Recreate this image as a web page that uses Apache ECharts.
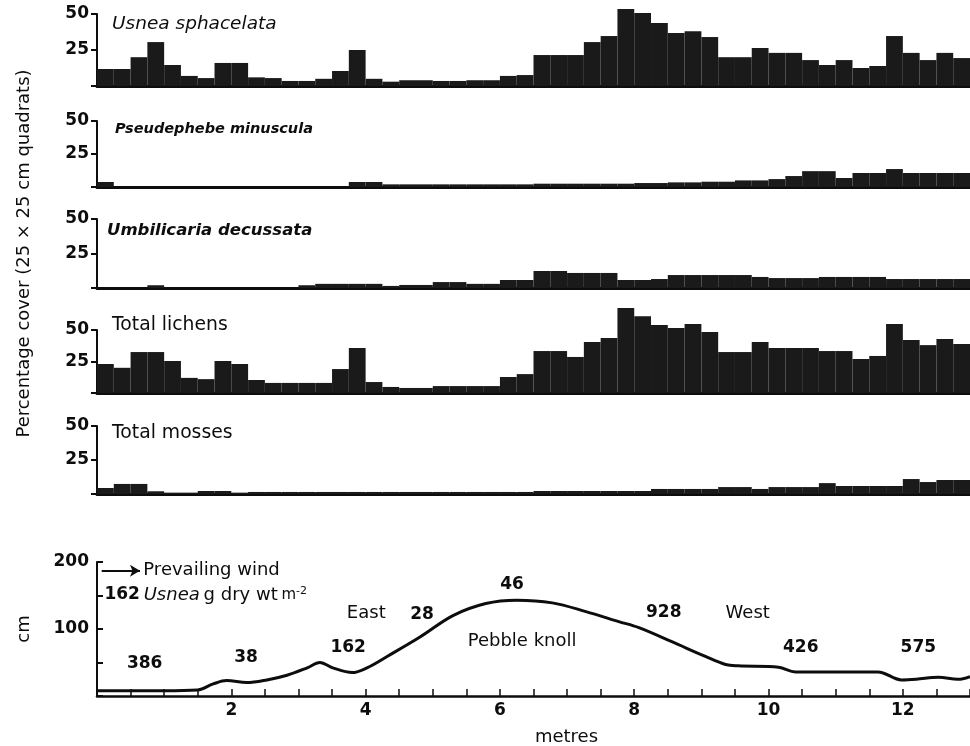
<!DOCTYPE html>
<html><head><meta charset="utf-8">
<script src="https://cdn.jsdelivr.net/npm/echarts@6/dist/echarts.min.js"></script>
<style>html,body{margin:0;padding:0;background:#fff}#c{width:970px;height:746px}</style>
</head><body><div id="c"></div>
<script>
// ---- data ----
const quadrats = ['0','0.25','0.5','0.75','1','1.25','1.5','1.75','2','2.25','2.5','2.75','3','3.25','3.5','3.75','4','4.25','4.5','4.75','5','5.25','5.5','5.75','6','6.25','6.5','6.75','7','7.25','7.5','7.75','8','8.25','8.5','8.75','9','9.25','9.5','9.75','10','10.25','10.5','10.75','11','11.25','11.5','11.75','12','12.25','12.5','12.75'];
const usnea = [11.8,11.8,20,30.5,14.6,7,5.5,16,16,6,5.5,3.5,3.5,5,10.4,25,5,3,4,4,3.5,3.5,4,4,7,7.6,21.5,21.5,21.5,30.5,34.7,53.5,50.7,43.8,36.8,38,34,20,20,26.4,23,23,18,14.6,18,12.5,13.9,34.7,23,18,23,19.4];
const pseudephebe = [3.8,0,0,0,0,0,0,0,0,0,0,0,0,0,0,3.8,3.8,2,2,2,2,2,2,2,2,2,2.5,2.5,2.5,2.5,2.5,2.5,3,3,3.5,3.5,4,4,5,5,6,8.3,12,12,6.8,10.6,10.6,13.6,10.6,10.6,10.6,10.6];
const umbilicaria = [0,0,0,2,0,0,0,0,0,0,0,0,2,3,3,3,3,1.5,2.2,2.2,4.3,4.3,3,3,5.8,5.8,12.3,12.3,10.9,10.9,10.9,5.8,5.8,6.5,9.4,9.4,9.4,9.4,9.4,8,7.2,7.2,7.2,8,8,8,8,6.5,6.5,6.5,6.5,6.5];
const totalLichens = [23,20,32.5,32.5,25.4,12,11,25.4,23,10.3,8,8,8,8,19,35.7,8.7,4.8,4,4,5.5,5.5,5.5,5.5,12.7,15,33.3,33.3,28.6,40.5,43.6,67.5,61,54,51.6,54.8,48.4,32.5,32.5,40.5,35.7,35.7,35.7,33.3,33.3,27,29.4,54.8,42,38,42.9,38.9];
const totalMosses = [4.4,7.4,7.4,2,1,1,2.2,2.2,1,1.5,1.5,1.5,1.5,1.5,1.5,1.5,1.5,1.5,1.5,1.5,1.5,1.5,1.5,1.5,1.5,1.5,2.2,2.2,2.2,2.2,2.2,2.2,2.2,3.7,3.7,3.7,3.7,5.1,5.1,3.7,5.1,5.1,5.1,8,5.9,5.9,5.9,5.9,11,8.8,10.3,10.3];
const panelNames = ['Usnea sphacelata','Pseudephebe minuscula','Umbilicaria decussata','Total lichens','Total mosses'];
const profileX = [0,0.5,1.0,1.5,1.73,1.93,2.23,2.53,2.83,3.13,3.32,3.51,3.8,4.02,4.32,4.81,5.3,5.79,6.25,6.78,7.28,7.77,8.07,8.56,9.06,9.36,9.55,10.15,10.4,11.0,11.63,11.98,12.2,12.53,12.82,13.0];
const profileY = [8,8,8,9,18,23,20,24,31,42,50,42,35,42,59,88,120,138,143,139,126,111,102,81,59,47,45,43,36,36,36,24,25,28,25,29];
const annoLabels = ['386','38','162','East','28','46','Pebble knoll','928','West','426','575'];
const annoBold = [true,true,true,false,true,true,false,true,false,true,true];
const annoX = [0.71,2.22,3.74,4.01,4.84,6.18,6.33,8.44,9.69,10.48,12.23];
const annoY = [48,58,72,124,122,167,82,124,124,72,72];

// ---- layout ----
const F = 'DejaVu Sans';
const INK = '#0d0d0d';
const gridTops = [14,121,219,330,426,562];
const gridHeights = [72,66,69,63,68,134];
const labelShift = [10,8,4,0,8];
const titleStyle = [
  {left:112, top:15, fontStyle:'italic', fontWeight:'normal', fontSize:18.5},
  {left:115, top:122, fontStyle:'italic', fontWeight:'bold', fontSize:14.5},
  {left:107, top:222, fontStyle:'italic', fontWeight:'bold', fontSize:16.5},
  {left:112, top:316, fontStyle:'normal', fontWeight:'normal', fontSize:18.8},
  {left:112, top:424, fontStyle:'normal', fontWeight:'normal', fontSize:18.8}
];

const grid = gridTops.map((t,i)=>({left:97, width:873, top:t, height:gridHeights[i], containLabel:false, outerBoundsMode:'none'}));
const xAxis = [], yAxis = [], series = [];
const barSets = [usnea, pseudephebe, umbilicaria, totalLichens, totalMosses];
for (let i=0;i<5;i++){
  xAxis.push({type:'category', gridIndex:i, data:quadrats, boundaryGap:true,
    axisLine:{show:true, onZero:false, lineStyle:{color:INK, width:3}}, axisTick:{show:false}, axisLabel:{show:false}, splitLine:{show:false}});
  yAxis.push({type:'value', gridIndex:i, min:0, max:50, interval:25,
    axisLine:{show:true, lineStyle:{color:INK, width:2}}, axisTick:{show:true, inside:false, length:6, lineStyle:{color:INK,width:2}},
    axisLabel:{show:true, margin:8, color:INK, fontFamily:F, fontWeight:'bold', fontSize:17, padding:[labelShift[i],0,0,0], formatter:v=>v===0?'':String(v)},
    splitLine:{show:false},
    name: i===2 ? 'Percentage cover (25 × 25 cm quadrats)' : '',
    nameLocation:'middle', nameGap:64, nameTextStyle:{color:INK, fontFamily:F, fontSize:18}});
  series.push({type:'bar', xAxisIndex:i, yAxisIndex:i, data:barSets[i], barWidth:'100%', barGap:'0%',
    itemStyle:{color:'#1a1a1a'}, clip:false, silent:true, animation:false});
}
xAxis.push({type:'value', gridIndex:5, min:0, max:13, interval:0.5,
  axisLine:{show:true, onZero:false, lineStyle:{color:INK, width:2.5}},
  axisTick:{show:true, inside:true, length:7, lineStyle:{color:INK, width:1.5}},
  axisLabel:{show:true, margin:6, hideOverlap:false, color:INK, fontFamily:F, fontWeight:'bold', fontSize:17,
    formatter:v=>(v>0 && Math.abs(v%2)<1e-9)?String(v):''},
  splitLine:{show:false},
  name:'metres', nameLocation:'middle', nameGap:32, nameTextStyle:{color:INK, fontFamily:F, fontSize:18, padding:[0,0,0,66]}});
yAxis.push({type:'value', gridIndex:5, min:0, max:200, interval:50,
  axisLine:{show:true, lineStyle:{color:INK, width:2}},
  axisTick:{show:true, inside:true, length:6, lineStyle:{color:INK, width:2}},
  axisLabel:{show:true, margin:8, color:INK, fontFamily:F, fontWeight:'bold', fontSize:17, formatter:v=>(v===100||v===200)?String(v):''},
  splitLine:{show:false},
  name:'cm', nameLocation:'middle', nameGap:64, nameTextStyle:{color:INK, fontFamily:F, fontSize:18}});

series.push({type:'line', xAxisIndex:5, yAxisIndex:5, data:profileX.map((x,i)=>[x,profileY[i]]),
  smooth:0.35, symbol:'none', lineStyle:{color:INK, width:3}, silent:true, animation:false,
  markLine:{silent:true, animation:false, symbol:['none','arrow'], symbolSize:[9,10], label:{show:false},
    lineStyle:{color:INK, width:2, type:'solid'},
    data:[[{coord:[0.07,187]},{coord:[0.64,187]}]]}});

const plainLabel = {show:true, position:[0,0], color:INK, fontFamily:F, textBorderWidth:0, textBorderColor:'transparent', opacity:1};
series.push({type:'scatter', xAxisIndex:5, yAxisIndex:5, symbolSize:0, itemStyle:{color:INK}, silent:true, animation:false,
  data: annoLabels.map((t,i)=>({name:t, value:[annoX[i],annoY[i]],
    label:{fontWeight:annoBold[i]?'bold':'normal', fontSize:annoBold[i]?17:18}})),
  label:Object.assign({}, plainLabel, {align:'center', verticalAlign:'middle', formatter:'{b}'})});

series.push({type:'scatter', xAxisIndex:5, yAxisIndex:5, symbolSize:0, itemStyle:{color:INK}, silent:true, animation:false,
  data:[
    {name:'wind', value:[0.69,187], label:{formatter:'Prevailing wind', fontSize:18}},
    {name:'usnea', value:[0.11,151], label:{formatter:'{b|162} {i|Usnea} {n|g dry wt} {m|m}{s|-2}',
      rich:{b:{fontWeight:'bold',fontSize:17,fontFamily:F,color:INK}, i:{fontStyle:'italic',fontSize:18,fontFamily:F,color:INK},
            n:{fontSize:18,fontFamily:F,color:INK}, m:{fontSize:15,fontFamily:F,color:INK}, s:{fontSize:11,fontFamily:F,color:INK,verticalAlign:'top',padding:[0,0,6,0]}}}}
  ],
  label:Object.assign({}, plainLabel, {align:'left', verticalAlign:'middle'})});

const title = panelNames.map((n,i)=>({text:n, left:titleStyle[i].left, top:titleStyle[i].top, padding:0,
  textStyle:{color:INK, fontFamily:F, fontSize:titleStyle[i].fontSize, fontStyle:titleStyle[i].fontStyle, fontWeight:titleStyle[i].fontWeight}}));

const chart = echarts.init(document.getElementById('c'), null, {renderer:'canvas'});
chart.setOption({backgroundColor:'#fff', animation:false, title, grid, xAxis, yAxis, series});
</script></body></html>
